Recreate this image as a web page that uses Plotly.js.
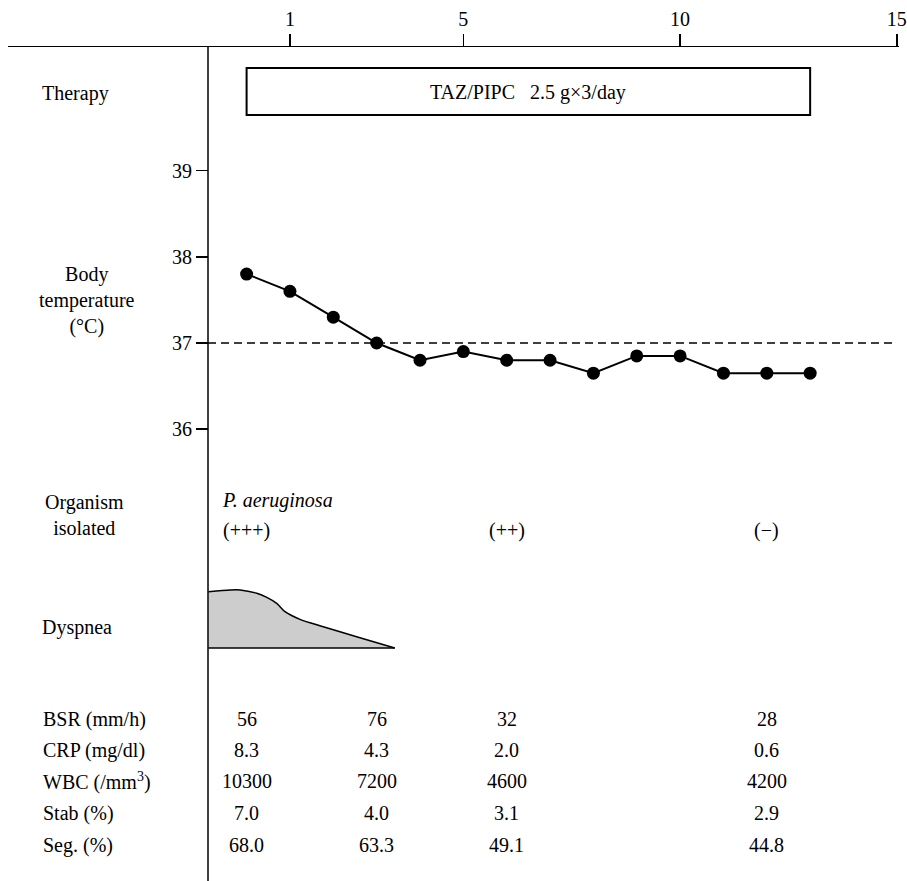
<!DOCTYPE html>
<html>
<head>
<meta charset="utf-8">
<script src="https://cdn.plot.ly/plotly-3.0.1.min.js"></script>
<style>html,body{margin:0;padding:0;background:#fff;}#chart{width:907px;height:881px;}</style>
</head>
<body>
<div id="chart"></div>
<script>
// ---------- data ----------
const days = [0,1,2,3,4,5,6,7,8,9,10,11,12,13];
const bodyTemp = [37.8,37.6,37.3,37.0,36.8,36.9,36.8,36.8,36.65,36.85,36.85,36.65,36.65,36.65];
const feverLine = 37;
const dayTicks = [1,5,10,15];
const tempTicks = [36,37,38,39];
const therapyStart = 0;
const therapyEnd = 13;
const therapyText = "TAZ/PIPC\u00a0\u00a0\u00a02.5 g\u00d73/day";
const organismName = "P. aeruginosa";
const organismDays = [0,6,12];
const organismGrade = ["(+++)","(++)","(\u2212)"];
const dyspneaDays = [-0.88,-0.38,-0.15,0.235,0.465,0.695,0.886,1.231,1.768,2.536,3.418];
const dyspneaLevel = [0.971,1.0,1.0,0.943,0.874,0.770,0.626,0.494,0.368,0.195,0];
const labDays = [0,3,6,12];
const labNames = ["BSR (mm/h)","CRP (mg/dl)","WBC (/mm<sup>3</sup>)","Stab (%)","Seg. (%)"];
const bsr = ["56","76","32","28"];
const crp = ["8.3","4.3","2.0","0.6"];
const wbc = ["10300","7200","4600","4200"];
const stab = ["7.0","4.0","3.1","2.9"];
const seg = ["68.0","63.3","49.1","44.8"];
const labRows = [bsr,crp,wbc,stab,seg];

// ---------- layout helpers ----------
const W = 907, H = 881;
const py = p => 1 - p / H;
const px = p => p / W;
const FONT = {family: "Liberation Serif", size: 20, color: "#000"};
const dayPx0 = 246.6, dayScale = 43.35;
const axisTopPx = 47, axisLeftPx = 208;
const t37Px = 343, tScale = 86.2;

const traces = [
  {x: days, y: bodyTemp, type: "scatter", mode: "lines+markers",
   line: {color: "#000", width: 2}, marker: {color: "#000", size: 13},
   xaxis: "x", yaxis: "y", hoverinfo: "skip", showlegend: false},
  {x: [dyspneaDays[0], dyspneaDays[dyspneaDays.length-1]], y: [0,0], type: "scatter", mode: "lines",
   line: {color: "#000", width: 1.5}, xaxis: "x", yaxis: "y2", showlegend: false, hoverinfo: "skip"},
  {x: dyspneaDays, y: dyspneaLevel, type: "scatter", mode: "lines", fill: "tonexty",
   line: {color: "#000", width: 1.5, shape: "spline", smoothing: 0.8},
   fillcolor: "#cdcdcd",
   xaxis: "x", yaxis: "y2", showlegend: false, hoverinfo: "skip"}
];

const annotations = [];
function ann(o){ annotations.push(Object.assign({showarrow: false, font: FONT}, o)); }

ann({xref: "paper", yref: "paper", x: px(40), y: py(93), xanchor: "left", yanchor: "middle", text: "Therapy"});
ann({xref: "x", yref: "paper", x: (therapyStart + therapyEnd) / 2, y: py(92), xanchor: "center", yanchor: "middle", text: therapyText});
ann({xref: "paper", yref: "paper", x: px(87), y: py(300), xanchor: "center", yanchor: "middle", align: "center",
     text: "Body<br>temperature<br>(\u00b0C)"});
ann({xref: "paper", yref: "paper", x: px(84), y: py(515), xanchor: "center", yanchor: "middle", align: "center",
     text: "Organism<br>isolated"});
ann({xref: "x", yref: "paper", x: organismDays[0], xshift: -27, y: py(500), xanchor: "left", yanchor: "middle",
     text: "<i>" + organismName + "</i>"});
organismDays.forEach((d, i) => ann({xref: "x", yref: "paper", x: d, y: py(530), xanchor: "center", yanchor: "middle", text: organismGrade[i]}));
ann({xref: "paper", yref: "paper", x: px(40), y: py(627), xanchor: "left", yanchor: "middle", text: "Dyspnea"});

const rowPx = [719, 750, 781, 813, 845];
labNames.forEach((n, r) => {
  ann({xref: "paper", yref: "paper", x: px(41), y: py(rowPx[r]), xanchor: "left", yanchor: "middle", text: n});
  labRows[r].forEach((v, c) => ann({xref: "x", yref: "paper", x: labDays[c], y: py(rowPx[r]), xanchor: "center", yanchor: "middle", text: v}));
});

const layout = {
  width: W, height: H,
  margin: {l: 0, r: 0, t: 0, b: 0, pad: 0},
  paper_bgcolor: "#fff", plot_bgcolor: "#fff",
  font: FONT,
  showlegend: false,
  xaxis: {
    domain: [px(8), px(899)],
    range: [(8 - dayPx0) / dayScale, (899 - dayPx0) / dayScale],
    anchor: "y", side: "top",
    showline: true, linecolor: "#000", linewidth: 1.5,
    ticks: "outside", ticklen: 12, tickwidth: 1.5, tickcolor: "#000",
    tickmode: "array", tickvals: dayTicks, ticktext: dayTicks.map(String),
    ticklabeloverflow: "allow",
    showgrid: false, zeroline: false, tickfont: FONT
  },
  yaxis: {
    domain: [0, py(axisTopPx)],
    range: [37 - (H - t37Px) / tScale, 37 + (t37Px - axisTopPx) / tScale],
    anchor: "free", position: px(axisLeftPx),
    showline: false,
    ticks: "outside", ticklen: 12, tickwidth: 1.5, tickcolor: "#000",
    tickmode: "array", tickvals: tempTicks, ticktext: tempTicks.map(String),
    showgrid: false, zeroline: false, tickfont: FONT
  },
  yaxis2: {
    domain: [py(650.9), py(587.1)],
    range: [-0.05, 1.05],
    anchor: "free", position: 0, visible: false, showgrid: false, zeroline: false
  },
  shapes: [
    {type: "line", xref: "paper", yref: "paper", x0: px(axisLeftPx), x1: px(axisLeftPx), y0: 0, y1: py(axisTopPx),
     line: {color: "#000", width: 1.5}, layer: "above"},
    {type: "line", xref: "paper", yref: "y", x0: px(axisLeftPx), x1: px(897), y0: feverLine, y1: feverLine,
     line: {color: "#000", width: 1.4, dash: "8px,5px"}, layer: "below"},
    {type: "rect", xref: "x", yref: "paper", x0: therapyStart, x1: therapyEnd, y0: py(115), y1: py(68),
     line: {color: "#000", width: 2}, fillcolor: "rgba(0,0,0,0)"}
  ],
  annotations: annotations
};

Plotly.newPlot("chart", traces, layout, {staticPlot: true, displayModeBar: false});
</script>
</body>
</html>
